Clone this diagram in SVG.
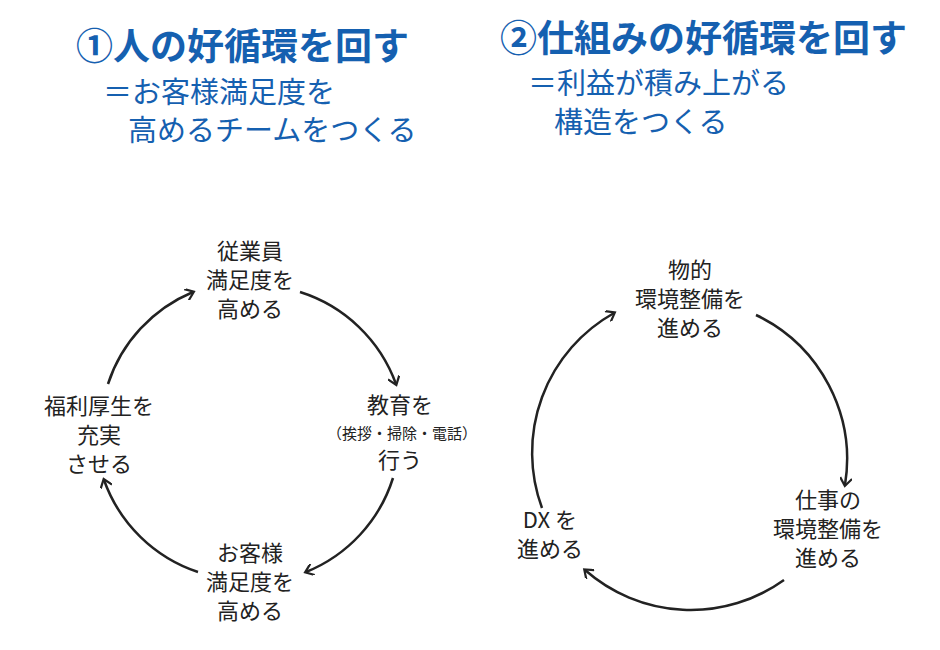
<svg xmlns="http://www.w3.org/2000/svg" width="940" height="650" viewBox="0 0 940 650">
<style>
.t{font-family:"Noto Sans CJK JP","Noto Sans",sans-serif;fill:#1560b0}
.h{font-size:37px;font-weight:bold}
.s{font-size:29px}
.n{font-family:"Noto Sans CJK JP","Noto Sans",sans-serif;font-size:22px;fill:#222;text-anchor:middle}
.sm{font-size:15px}
.c{fill:none;stroke:#222;stroke-width:2.5;marker-end:url(#a)}
</style>
<defs><marker id="a" markerWidth="12" markerHeight="12" refX="8" refY="6" orient="auto" markerUnits="userSpaceOnUse" viewBox="0 0 12 12"><path d="M1,0 L9,6 L1,12" fill="none" stroke="#222" stroke-width="2.2"/></marker></defs>
<rect width="940" height="650" fill="#fff"/>
<g id="title1"><text class="t h" x="76" y="60">①人の好循環を回す</text>
<text class="t s" x="103" y="103">＝お客様満足度を</text>
<text class="t s" x="128" y="141">高めるチームをつくる</text></g>
<g id="title2"><text class="t h" x="500" y="52">②仕組みの好循環を回す</text>
<text class="t s" x="528" y="94">＝利益が積み上がる</text>
<text class="t s" x="554" y="133">構造をつくる</text></g>
<g id="connectors">
<path class="c" d="M300,292 A150,150 0 0 1 396,384"/>
<path class="c" d="M393,478 A150,150 0 0 1 306,572"/>
<path class="c" d="M198,572 A150,150 0 0 1 104,480"/>
<path class="c" d="M108,384 A150,150 0 0 1 193,292"/>
<path class="c" d="M756,315 A160,160 0 0 1 845,485"/>
<path class="c" d="M784,580 A160,160 0 0 1 585,570"/>
<path class="c" d="M542,508 A160,160 0 0 1 614,313"/>
</g>
<g id="n1"><text class="n" x="250" y="259">従業員</text><text class="n" x="250" y="288">満足度を</text><text class="n" x="250" y="317">高める</text></g>
<g id="n2"><text class="n" x="400" y="413">教育を</text><text class="n sm" x="402" y="439">（挨拶・掃除・電話）</text><text class="n" x="400" y="468">行う</text></g>
<g id="n3"><text class="n" x="250" y="561">お客様</text><text class="n" x="250" y="590">満足度を</text><text class="n" x="250" y="619">高める</text></g>
<g id="n4"><text class="n" x="99" y="414">福利厚生を</text><text class="n" x="99" y="443">充実</text><text class="n" x="99" y="472">させる</text></g>
<g id="n5"><text class="n" x="690" y="278">物的</text><text class="n" x="690" y="307">環境整備を</text><text class="n" x="690" y="336">進める</text></g>
<g id="n6"><text class="n" x="828" y="508">仕事の</text><text class="n" x="828" y="537">環境整備を</text><text class="n" x="828" y="566">進める</text></g>
<g id="n7"><text class="n" x="550" y="528">DX を</text><text class="n" x="550" y="557">進める</text></g>
</svg>
